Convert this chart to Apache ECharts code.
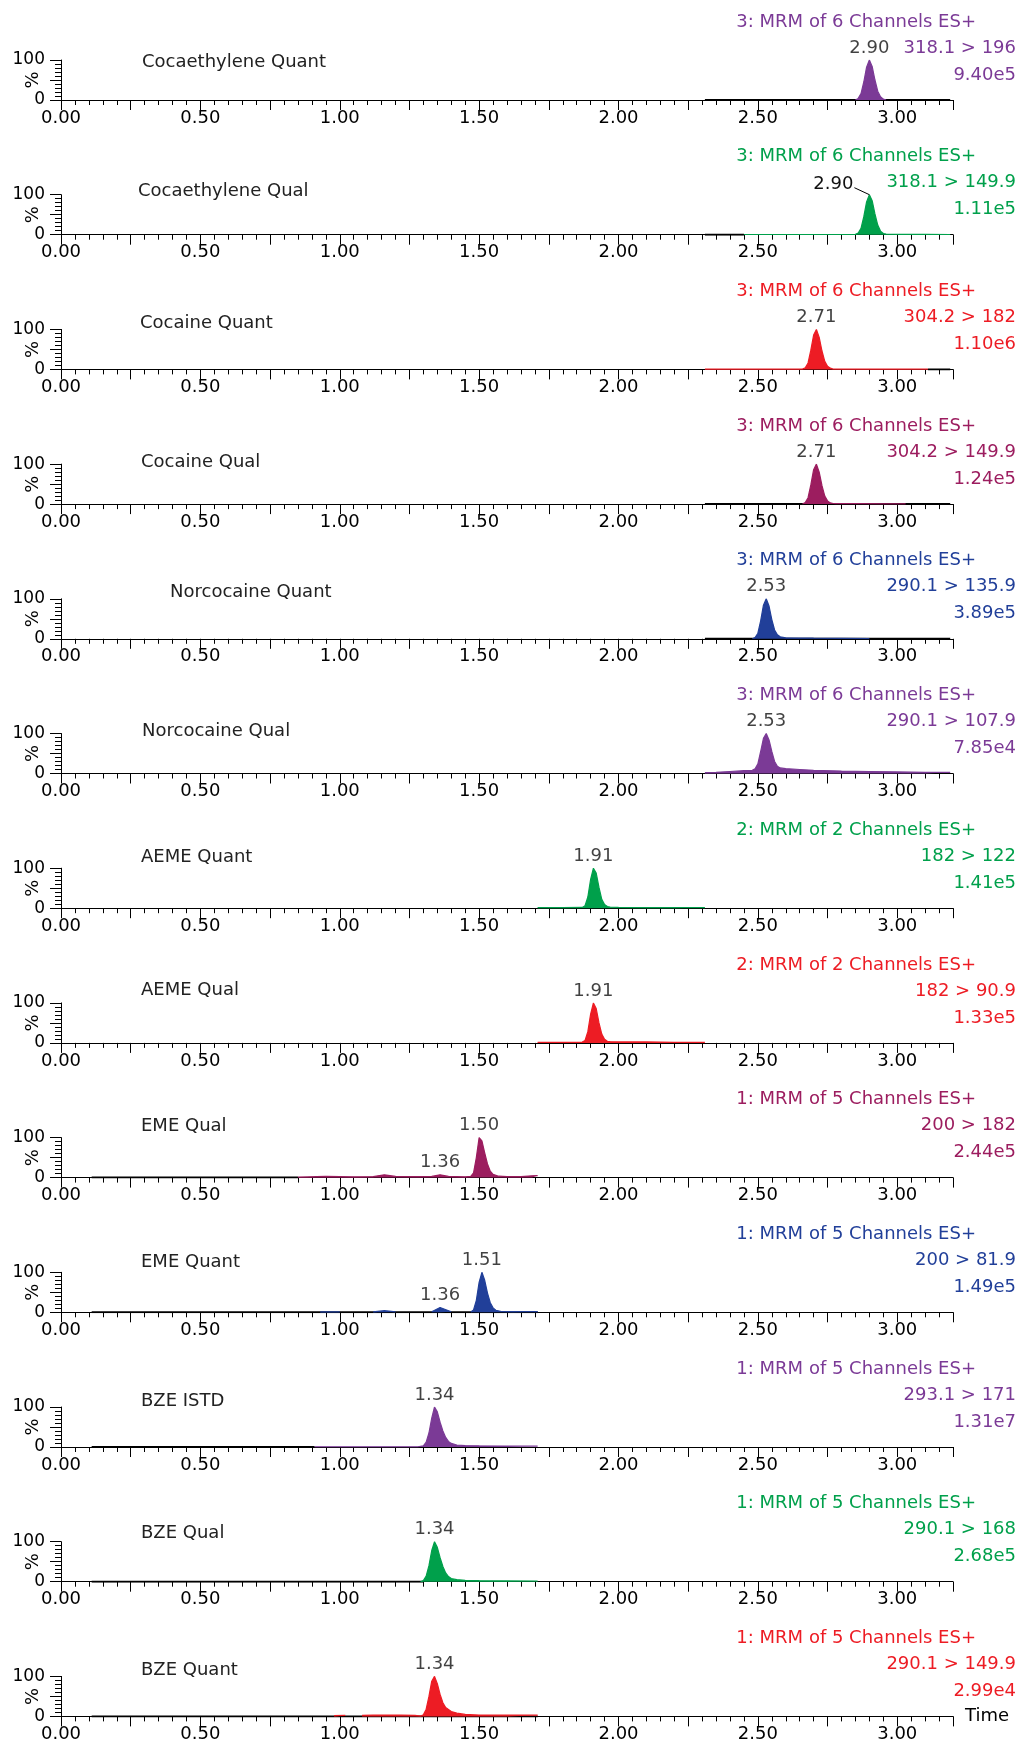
<!DOCTYPE html>
<html>
<head>
<meta charset="utf-8">
<title>MRM chromatograms</title>
<script src="https://cdn.jsdelivr.net/npm/echarts@6/dist/echarts.min.js"></script>
<style>
  html, body { margin: 0; padding: 0; background: #fff; }
  #chart { width: 1021px; height: 1750px; }
</style>
</head>
<body>
<div id="chart"></div>
<script>
// 面板文字
const names = ['Cocaethylene Quant', 'Cocaethylene Qual', 'Cocaine Quant', 'Cocaine Qual',
  'Norcocaine Quant', 'Norcocaine Qual', 'AEME Quant', 'AEME Qual', 'EME Qual', 'EME Quant',
  'BZE ISTD', 'BZE Qual', 'BZE Quant'];
const channels = ['3: MRM of 6 Channels ES+', '3: MRM of 6 Channels ES+', '3: MRM of 6 Channels ES+',
  '3: MRM of 6 Channels ES+', '3: MRM of 6 Channels ES+', '3: MRM of 6 Channels ES+',
  '2: MRM of 2 Channels ES+', '2: MRM of 2 Channels ES+', '1: MRM of 5 Channels ES+',
  '1: MRM of 5 Channels ES+', '1: MRM of 5 Channels ES+', '1: MRM of 5 Channels ES+',
  '1: MRM of 5 Channels ES+'];
const transitions = ['318.1 > 196', '318.1 > 149.9', '304.2 > 182', '304.2 > 149.9', '290.1 > 135.9',
  '290.1 > 107.9', '182 > 122', '182 > 90.9', '200 > 182', '200 > 81.9', '293.1 > 171',
  '290.1 > 168', '290.1 > 149.9'];
const maxIntensity = ['9.40e5', '1.11e5', '1.10e6', '1.24e5', '3.89e5', '7.85e4', '1.41e5', '1.33e5',
  '2.44e5', '1.49e5', '1.31e7', '2.68e5', '2.99e4'];
const peakTimes = [[2.90], [2.90], [2.71], [2.71], [2.53], [2.53], [1.91], [1.91], [1.50, 1.36],
  [1.51, 1.36], [1.34], [1.34], [1.34]];

// x 轴刻度
const xTicks = [0, 0.5, 1.0, 1.5, 2.0, 2.5, 3.0];
const yTicks = [0, 100];

// 各通道数据 (时间 / 相对强度 %), null 表示断开
const ceQuantT = [2.85, 2.86, 2.87, 2.88, 2.89, 2.90, 2.91, 2.92, 2.93, 2.94, 2.95, 2.96];
const ceQuantY = [0, 4, 16, 45, 82, 100, 84, 50, 22, 8, 2, 0];
const ceQuantBase = [2.31, 3.19];

const ceQualT = [2.45, 2.60, 2.80, 2.85, 2.86, 2.87, 2.88, 2.89, 2.90, 2.91, 2.92, 2.93, 2.94, 2.95, 2.96, 3.00, 3.10, 3.19];
const ceQualY = [0.5, 0.5, 0.5, 0.8, 4, 16, 45, 82, 100, 85, 52, 24, 9, 3, 1.5, 1, 0.8, 0.5];
const ceQualBase = [2.31, 2.45];

const cocQuantT = [2.31, 2.50, 2.65, 2.66, 2.67, 2.68, 2.69, 2.70, 2.71, 2.72, 2.73, 2.74, 2.75, 2.76, 2.77, 2.80, 3.00, 3.11];
const cocQuantY = [0.5, 0.5, 0.5, 1, 4, 16, 48, 86, 100, 80, 46, 20, 8, 3, 1, 0.5, 0.5, 0.5];
const cocQuantBase = [3.11, 3.19];

const cocQualT = [2.66, 2.67, 2.68, 2.69, 2.70, 2.71, 2.72, 2.73, 2.74, 2.75, 2.76, 2.77, 2.78, 2.85, 2.95, 3.03];
const cocQualY = [0, 4, 16, 48, 86, 100, 80, 46, 20, 8, 3, 1.5, 1, 1, 0.8, 0.5];
const cocQualBase = [2.31, 3.19];

const norQuantT = [2.48, 2.49, 2.50, 2.51, 2.52, 2.53, 2.54, 2.55, 2.56, 2.57, 2.58, 2.60, 2.70, 2.80, 2.90];
const norQuantY = [0, 3, 14, 45, 84, 100, 82, 48, 22, 10, 5, 2.5, 1.5, 1, 0.5];
const norQuantBase = [2.31, 3.19];

const norQualT = [2.31, 2.35, 2.40, 2.45, 2.48, 2.49, 2.50, 2.51, 2.52, 2.53, 2.54, 2.55, 2.56, 2.57, 2.58, 2.60, 2.65, 2.70, 2.80, 2.90, 3.00, 3.10, 3.19];
const norQualY = [2, 3, 5, 7, 8, 12, 24, 55, 88, 100, 84, 55, 30, 18, 14, 12, 10, 8, 6, 5, 4, 3, 3];
const norQualBase = [2.31, 2.31];

const aemeQuantT = [1.71, 1.80, 1.87, 1.88, 1.89, 1.90, 1.91, 1.92, 1.93, 1.94, 1.95, 1.96, 1.97, 2.00, 2.10, 2.20, 2.31];
const aemeQuantY = [1.5, 1.5, 2, 6, 28, 72, 100, 88, 52, 22, 9, 4, 2.5, 2, 1.5, 1.5, 1.5];
const aemeQuantBase = [1.71, 1.71];

const aemeQualT = [1.71, 1.80, 1.87, 1.88, 1.89, 1.90, 1.91, 1.92, 1.93, 1.94, 1.95, 1.96, 1.97, 2.00, 2.10, 2.20, 2.31];
const aemeQualY = [1.5, 1.5, 2, 6, 28, 72, 100, 86, 50, 22, 9, 4, 3, 2.5, 2.5, 1.5, 1.5];
const aemeQualBase = [1.71, 1.71];

const emeQualT = [0.85, 0.95, 1.05, 1.12, 1.16, 1.20, 1.28, 1.33, 1.36, 1.39, 1.45, 1.47, 1.48, 1.49, 1.50, 1.51, 1.52, 1.53, 1.54, 1.55, 1.57, 1.60, 1.65, 1.69, 1.71];
const emeQualY = [1, 3, 2, 2.5, 7, 3, 2.5, 3, 7, 3, 2, 3, 12, 50, 100, 92, 62, 34, 16, 8, 3.5, 2.5, 2.5, 4.5, 5];
const emeQualBase = [0.11, 0.85];

const emeQuantT = [0.93, 1.00, 1.06, 1.12, 1.16, 1.20, 1.26, 1.33, 1.36, 1.40, 1.44, 1.47, 1.48, 1.49, 1.50, 1.51, 1.52, 1.53, 1.54, 1.55, 1.56, 1.58, 1.62, 1.71];
const emeQuantY = [1, 1, null, 1, 4, 1, null, 1.5, 12, 1.5, null, 1, 6, 30, 75, 100, 80, 48, 24, 11, 5, 2, 1.5, 1.5];
const emeQuantBase = [0.11, 1.71];

const bzeIstdT = [0.91, 1.00, 1.10, 1.20, 1.28, 1.30, 1.31, 1.32, 1.33, 1.34, 1.35, 1.36, 1.37, 1.38, 1.39, 1.40, 1.42, 1.45, 1.50, 1.60, 1.71];
const bzeIstdY = [0.5, 0.5, 0.5, 0.5, 0.5, 3, 12, 35, 72, 100, 88, 62, 40, 24, 14, 9, 5, 3.5, 3, 2.5, 2];
const bzeIstdBase = [0.11, 0.91];

const bzeQualT = [1.29, 1.30, 1.31, 1.32, 1.33, 1.34, 1.35, 1.36, 1.37, 1.38, 1.39, 1.40, 1.42, 1.45, 1.50, 1.60, 1.71];
const bzeQualY = [0, 3, 14, 40, 78, 100, 86, 60, 38, 22, 13, 8, 5, 3.5, 2.5, 2, 1.5];
const bzeQualBase = [0.11, 1.30];

const bzeQuantT = [0.98, 1.02, 1.04, 1.08, 1.12, 1.18, 1.22, 1.27, 1.29, 1.30, 1.31, 1.32, 1.33, 1.34, 1.35, 1.36, 1.37, 1.38, 1.40, 1.42, 1.45, 1.50, 1.60, 1.71];
const bzeQuantY = [2, 2.5, null, 2.5, 3, 3.5, 3, 2.5, 1, 4, 18, 50, 88, 100, 82, 55, 34, 22, 12, 8, 5, 3.5, 3, 3];
const bzeQuantBase = [0.11, 1.71];

const traces = [
  [ceQuantT, ceQuantY, ceQuantBase], [ceQualT, ceQualY, ceQualBase],
  [cocQuantT, cocQuantY, cocQuantBase], [cocQualT, cocQualY, cocQualBase],
  [norQuantT, norQuantY, norQuantBase], [norQualT, norQualY, norQualBase],
  [aemeQuantT, aemeQuantY, aemeQuantBase], [aemeQualT, aemeQualY, aemeQualBase],
  [emeQualT, emeQualY, emeQualBase], [emeQuantT, emeQuantY, emeQuantBase],
  [bzeIstdT, bzeIstdY, bzeIstdBase], [bzeQualT, bzeQualY, bzeQualBase],
  [bzeQuantT, bzeQuantY, bzeQuantBase]
];

// 颜色与排版
const PURPLE = '#7b3a96', GREEN = '#00a04b', RED = '#ed1c24', MAROON = '#9c1d5f', BLUE = '#213f99';
const colors = [PURPLE, GREEN, RED, MAROON, BLUE, PURPLE, GREEN, RED, MAROON, BLUE, PURPLE, GREEN, RED];
const titleLeft = [142, 138, 140, 141, 170, 142, 141, 141, 141, 141, 141, 141, 141];
const titleDy = [-38, -43, -46, -42, -46, -42, -51, -53, -51, -50, -46, -48, -46];
const LEADER_PANEL = 1; // 这一格的峰标签用引线偏左

const FONT = 'Verdana, "DejaVu Sans", sans-serif';
const LEFT = 61, WIDTH = 892, H = 40, FIRST = 100, STEP = 134.7;
const axisY = i => FIRST + i * STEP;

const chart = echarts.init(document.getElementById('chart'), null, { renderer: 'canvas' });

const grid = [], xAxis = [], yAxis = [], series = [], graphic = [];

names.forEach((name, i) => {
  const y0 = axisY(i);
  const last = i === names.length - 1;
  grid.push({ left: LEFT, top: y0 - H, width: WIDTH, height: H });

  xAxis.push({
    type: 'value', gridIndex: i, min: 0, max: 3.2, interval: 0.25,
    axisLine: { lineStyle: { color: '#000', width: 1 } },
    axisTick: { length: 10, lineStyle: { color: '#000' } },
    minorTick: { show: true, splitNumber: 5, length: 5, lineStyle: { color: '#000' } },
    splitLine: { show: false },
    axisLabel: {
      margin: 9, color: '#000', fontSize: 18, fontFamily: FONT,
      formatter: v => xTicks.some(t => Math.abs(t - v) < 1e-6) ? v.toFixed(2) : ''
    },
    name: last ? 'Time' : '',
    nameLocation: 'end', nameGap: 12,
    nameTextStyle: { color: '#000', fontSize: 18, fontFamily: FONT, verticalAlign: 'middle' }
  });

  yAxis.push({
    type: 'value', gridIndex: i, min: 0, max: 100, interval: 50,
    axisLine: { show: true, lineStyle: { color: '#000', width: 1 } },
    axisTick: { show: true, length: 11, lineStyle: { color: '#000' } },
    minorTick: { show: true, splitNumber: 5, length: 6, lineStyle: { color: '#000' } },
    splitLine: { show: false },
    axisLabel: {
      margin: 16, color: '#000', fontSize: 17, fontFamily: FONT,
      formatter: v => yTicks.includes(v) ? String(v) : ''
    },
    name: '%', nameLocation: 'middle', nameRotate: 90, nameGap: 19, nameMoveOverlap: false,
    nameTextStyle: { color: '#000', fontSize: 18, fontFamily: FONT }
  });

  const [ts, ys, base] = traces[i];
  const c = colors[i];

  // 黑色基线 (无信号段)
  series.push({
    type: 'line', xAxisIndex: i, yAxisIndex: i, silent: true, symbol: 'none', z: 2,
    data: [[base[0], 0], [base[1], 0]],
    lineStyle: { color: '#000', width: 2 }
  });

  // 彩色色谱峰
  series.push({
    type: 'line', xAxisIndex: i, yAxisIndex: i, silent: true, symbol: 'none', z: 3,
    connectNulls: false,
    data: ts.map((t, k) => [t, ys[k] === null ? '-' : ys[k]]),
    lineStyle: { color: c, width: 1.2 },
    areaStyle: { color: c, opacity: 1 }
  });

  // 峰顶保留时间标签
  if (i !== LEADER_PANEL) {
    const labelData = peakTimes[i].map(pt => [pt, ys[ts.findIndex(t => Math.abs(t - pt) < 1e-6)]]);
    series.push({
      type: 'scatter', xAxisIndex: i, yAxisIndex: i, silent: true, symbolSize: 0, z: 4,
      data: labelData,
      label: {
        show: true, position: 'top', distance: 3,
        color: '#111', fontSize: 18, fontFamily: FONT,
        formatter: p => p.value[0].toFixed(2)
      }
    });
  }

  // 化合物名称
  graphic.push({
    type: 'text', x: titleLeft[i], y: y0 + titleDy[i],
    style: { text: name, fill: '#222', font: '18px ' + FONT, verticalAlign: 'middle' }
  });

  // 右侧通道信息
  graphic.push({
    type: 'text', x: 976, y: y0 - 78,
    style: { text: channels[i], fill: c, font: '18px ' + FONT, align: 'right', verticalAlign: 'middle' }
  });
  graphic.push({
    type: 'text', x: 1016, y: y0 - 52,
    style: { text: transitions[i], fill: c, font: '18px ' + FONT, align: 'right', verticalAlign: 'middle' }
  });
  graphic.push({
    type: 'text', x: 1016, y: y0 - 25,
    style: { text: maxIntensity[i], fill: c, font: '18px ' + FONT, align: 'right', verticalAlign: 'middle' }
  });
});

chart.setOption({
  animation: false,
  backgroundColor: '#fff',
  grid, xAxis, yAxis, series, graphic
});

// 第二格: 标签偏左, 用短线连到峰顶
function addLeader() {
  const [ts, ys] = traces[LEADER_PANEL];
  const pt = peakTimes[LEADER_PANEL][0];
  const top = ys[ts.findIndex(t => Math.abs(t - pt) < 1e-6)];
  const p = chart.convertToPixel({ xAxisIndex: LEADER_PANEL, yAxisIndex: LEADER_PANEL }, [pt, top]);
  const ex = p[0] - 15, ey = p[1] - 7;
  graphic.push({
    type: 'line', shape: { x1: ex, y1: ey, x2: p[0], y2: p[1] },
    style: { stroke: '#000', lineWidth: 1 }, z: 10
  });
  graphic.push({
    type: 'text', x: ex - 1, y: ey - 3,
    style: { text: pt.toFixed(2), fill: '#111', font: '18px ' + FONT, align: 'right', verticalAlign: 'middle' },
    z: 10
  });
  chart.setOption({ graphic });
}
addLeader();
</script>
</body>
</html>
